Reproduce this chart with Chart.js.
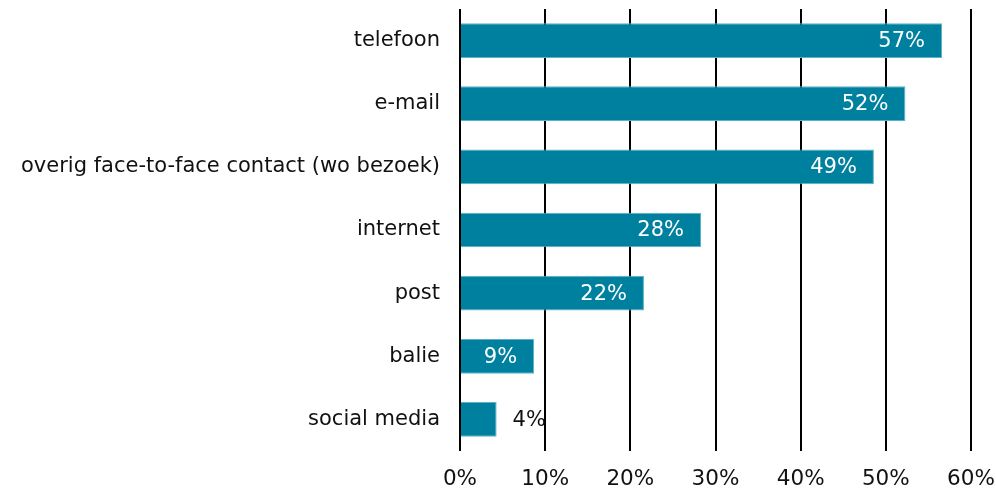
<!DOCTYPE html>
<html>
<head>
<meta charset="utf-8">
<script src="https://cdn.jsdelivr.net/npm/chart.js@4/dist/chart.umd.min.js"></script>
<style>
  html, body { margin: 0; padding: 0; background: #fff; overflow: hidden; }
  #wrap { width: 996px; height: 490px; }
</style>
</head>
<body>
<div id="wrap"><canvas id="bar-chart"></canvas></div>
<script>
const categories = ["telefoon", "e-mail", "overig face-to-face contact (wo bezoek)", "internet", "post", "balie", "social media"];
const shares = [56.6, 52.3, 48.6, 28.3, 21.6, 8.7, 4.3];
const tickValues = [0, 10, 20, 30, 40, 50, 60];

const FONT = "Verdana, 'DejaVu Sans', sans-serif";

// percentages op de balken: binnen de balk in wit, bij korte balken erachter in zwart
const valueLabels = {
  id: "valueLabels",
  afterDatasetsDraw(chart) {
    const ctx = chart.ctx;
    const meta = chart.getDatasetMeta(0);
    ctx.save();
    ctx.font = "21px " + FONT;
    ctx.textBaseline = "middle";
    meta.data.forEach(function (bar, i) {
      const text = Math.round(shares[i]) + "%";
      const w = ctx.measureText(text).width;
      const len = bar.x - bar.base;
      if (len > w + 30) {
        ctx.fillStyle = "#ffffff";
        ctx.textAlign = "right";
        ctx.fillText(text, bar.x - 17, bar.y + 1);
      } else {
        ctx.fillStyle = "#111";
        ctx.textAlign = "left";
        ctx.fillText(text, bar.x + 16, bar.y + 1);
      }
    });
    ctx.restore();
  }
};

new Chart(document.getElementById("bar-chart"), {
  type: "bar",
  data: {
    labels: categories,
    datasets: [
      {
        data: shares,
        backgroundColor: "#00809F",
        borderColor: "#5fb0c6",
        borderWidth: 1,
        categoryPercentage: 1,
        barPercentage: 0.55,
      },
    ],
  },
  options: {
    indexAxis: "y",
    responsive: true,
    maintainAspectRatio: false,
    animation: false,
    layout: { padding: { top: 9, bottom: 0, left: 0, right: 25 } },
    plugins: {
      legend: { display: false },
      tooltip: { enabled: false },
    },
    scales: {
      x: {
        min: 0,
        max: 60,
        afterBuildTicks(scale) {
          scale.ticks = tickValues.map((v) => ({ value: v }));
        },
        afterFit(scale) {
          scale.height = 39;
          scale.paddingLeft = 0;
          scale.paddingRight = 0;
        },
        grid: { color: "#000", lineWidth: 2, drawTicks: false },
        border: { display: false },
        ticks: {
          color: "#111",
          padding: 16,
          font: { family: FONT, size: 21.5 },
          callback: (v) => v + "%",
        },
      },
      y: {
        afterFit(scale) {
          scale.width = 460;
          scale.paddingTop = 0;
          scale.paddingBottom = 0;
        },
        grid: { display: false, drawTicks: false },
        border: { display: false },
        ticks: {
          color: "#111",
          padding: 20,
          font: { family: FONT, size: 21 },
        },
      },
    },
  },
  plugins: [valueLabels],
});
</script>
</body>
</html>
